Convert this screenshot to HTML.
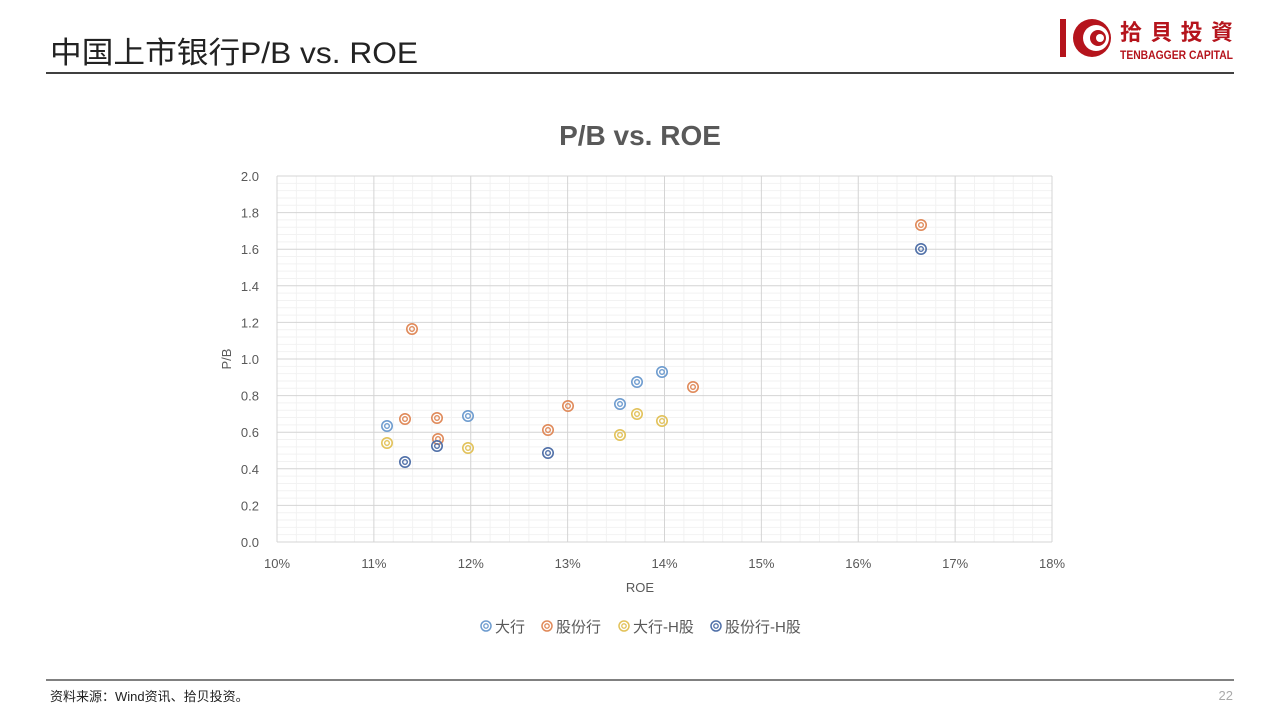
<!DOCTYPE html>
<html><head><meta charset="utf-8"><style>
body{margin:0;width:1280px;height:720px;background:#fff;overflow:hidden;font-family:"Liberation Sans","Noto Sans CJK SC",sans-serif}
</style></head><body>
<svg width="1280" height="720" xmlns="http://www.w3.org/2000/svg" font-family="Liberation Sans, Noto Sans CJK SC, sans-serif">
<text x="50" y="63" font-size="30" fill="#222" textLength="368" lengthAdjust="spacingAndGlyphs">中国上市银行P/B vs. ROE</text>
<line x1="46" y1="73" x2="1234" y2="73" stroke="#000" stroke-width="1.5"/>
<!-- logo -->
<rect x="1060" y="19" width="6" height="38" fill="#b5141c"/>
<circle cx="1092" cy="38" r="19" fill="#b5141c"/>
<circle cx="1096" cy="38" r="13" fill="#fff"/>
<circle cx="1098" cy="38" r="8" fill="#b5141c"/>
<circle cx="1100" cy="38" r="4" fill="#fff"/>
<text x="1120" y="40" font-size="22" font-weight="bold" fill="#b5141c" textLength="113" lengthAdjust="spacing">拾貝投資</text>
<text x="1120" y="59" font-size="12" font-weight="bold" fill="#b5141c" textLength="113" lengthAdjust="spacingAndGlyphs">TENBAGGER CAPITAL</text>
<text x="640" y="145" font-size="28" font-weight="bold" fill="#595959" text-anchor="middle">P/B vs. ROE</text>
<g id="grid"></g>
<g font-size="13" fill="#595959">
<text x="640" y="592" text-anchor="middle">ROE</text>
<text transform="translate(231,359) rotate(-90)" text-anchor="middle">P/B</text>
</g>
<g id="pts"></g>
<g font-size="15" fill="#595959">
<circle cx="486" cy="626" r="5" fill="none" stroke="#6e9ccf" stroke-width="1.5"/><circle cx="486" cy="626" r="2.2" fill="none" stroke="#6e9ccf" stroke-width="1.3"/><text x="495" y="632">大行</text>
<circle cx="547" cy="626" r="5" fill="none" stroke="#e08a5a" stroke-width="1.5"/><circle cx="547" cy="626" r="2.2" fill="none" stroke="#e08a5a" stroke-width="1.3"/><text x="556" y="632">股份行</text>
<circle cx="624" cy="626" r="5" fill="none" stroke="#e2c25a" stroke-width="1.5"/><circle cx="624" cy="626" r="2.2" fill="none" stroke="#e2c25a" stroke-width="1.3"/><text x="633" y="632">大行-H股</text>
<circle cx="716" cy="626" r="5" fill="none" stroke="#5070a8" stroke-width="1.5"/><circle cx="716" cy="626" r="2.2" fill="none" stroke="#5070a8" stroke-width="1.3"/><text x="725" y="632">股份行-H股</text>
</g>
<line x1="46" y1="680" x2="1234" y2="680" stroke="#000" stroke-width="1"/>
<text x="50" y="701" font-size="13" fill="#222">资料来源：Wind资讯、拾贝投资。</text>
<text x="1233" y="700" font-size="13" fill="#aaa" text-anchor="end">22</text>
</svg>
<script>
var NS="http://www.w3.org/2000/svg",g=document.getElementById("grid"),p=document.getElementById("pts");
function el(t,a,par){var e=document.createElementNS(NS,t);for(var k in a)e.setAttribute(k,a[k]);(par||g).appendChild(e);return e;}
var x0=277,x1=1052,y0=542,y1=176;
for(var i=0;i<=40;i++){var x=x0+(x1-x0)*i/40;if(i%5)el("line",{x1:x,x2:x,y1:y1,y2:y0,stroke:"#f2f2f2"});}
for(var i=0;i<=50;i++){var y=y0-(y0-y1)*i/50;if(i%5)el("line",{x1:x0,x2:x1,y1:y,y2:y,stroke:"#f2f2f2"});}
for(var i=0;i<=8;i++){var x=x0+(x1-x0)*i/8;el("line",{x1:x,x2:x,y1:y1,y2:y0,stroke:"#d4d4d4"});
var t=el("text",{x:x,y:568,"font-size":13,fill:"#595959","text-anchor":"middle"});t.textContent=(10+i)+"%";}
for(var i=0;i<=10;i++){var y=y0-(y0-y1)*i/10;el("line",{x1:x0,x2:x1,y1:y,y2:y,stroke:"#d4d4d4"});
var t=el("text",{x:259,y:y+5,"font-size":13,fill:"#595959","text-anchor":"end"});t.textContent=(i*0.2).toFixed(1);}
var S=[["#6e9ccf",[[387,426],[468,416],[620,404],[637,382],[662,372]]],
["#e08a5a",[[412,329],[405,419],[437,418],[438,439],[548,430],[568,406],[693,387],[921,225]]],
["#e2c25a",[[387,443],[468,448],[620,435],[637,414],[662,421]]],
["#5070a8",[[405,462],[437,446],[548,453],[921,249]]]];
S.forEach(function(s){s[1].forEach(function(q){el("circle",{cx:q[0],cy:q[1],r:5.2,fill:"none",stroke:s[0],"stroke-width":1.6},p);el("circle",{cx:q[0],cy:q[1],r:2.3,fill:"none",stroke:s[0],"stroke-width":1.4},p);});});
</script>
</body></html>
